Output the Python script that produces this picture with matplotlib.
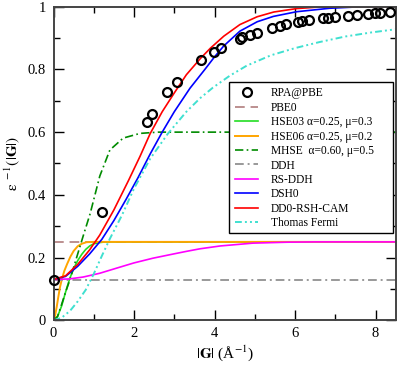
import matplotlib
matplotlib.use("Agg")
import matplotlib.pyplot as plt
from matplotlib.patches import Rectangle
from matplotlib.ticker import MultipleLocator

# RPA@PBE reference points
rpa_g = [0.0, 1.20, 2.33, 2.44, 2.81, 3.08, 3.66, 3.99, 4.16, 4.63, 4.69, 4.88, 5.05,
         5.42, 5.63, 5.78, 6.08, 6.18, 6.35, 6.70, 6.83, 6.99, 7.32, 7.53, 7.82, 7.99,
         8.11, 8.36]
rpa_eps = [0.13, 0.345, 0.631, 0.658, 0.727, 0.760, 0.830, 0.857, 0.869, 0.897, 0.902,
           0.910, 0.917, 0.933, 0.939, 0.944, 0.952, 0.954, 0.958, 0.963, 0.965, 0.966,
           0.971, 0.973, 0.977, 0.979, 0.980, 0.982]

pbe0_g = [0.0, 8.5]
pbe0_eps = [0.25, 0.25]

hse03_g = [0.0, 0.1, 0.2, 0.3, 0.4, 0.5, 0.6, 0.7, 0.8, 0.9, 1.0, 1.15, 1.3, 8.5]
hse03_eps = [0.0, 0.012, 0.045, 0.09, 0.132, 0.165, 0.19, 0.21, 0.226, 0.237, 0.244,
             0.248, 0.25, 0.25]

hse06_g = [0.0, 0.04, 0.08, 0.12, 0.16, 0.21, 0.27, 0.34, 0.42, 0.5, 0.6, 0.7, 0.82, 1.0, 8.5]
hse06_eps = [0.0, 0.015, 0.043, 0.075, 0.105, 0.132, 0.158, 0.18, 0.203, 0.221, 0.236,
             0.244, 0.249, 0.25, 0.25]

mhse_g = [0.0, 0.1, 0.2, 0.3, 0.41, 0.55, 0.74, 0.91, 1.15, 1.4, 1.73, 2.15, 2.6, 8.5]
mhse_eps = [0.0, 0.012, 0.05, 0.09, 0.13, 0.19, 0.27, 0.34, 0.46, 0.543, 0.581, 0.596,
            0.6, 0.6]

ddh_g = [0.0, 8.5]
ddh_eps = [0.13, 0.13]

rsddh_g = [0.0, 0.4, 0.74, 1.15, 1.56, 2.0, 2.47, 3.0, 3.31, 3.64, 4.14, 4.95, 5.8, 6.5, 8.5]
rsddh_eps = [0.13, 0.132, 0.138, 0.15, 0.166, 0.183, 0.198, 0.212, 0.22, 0.228, 0.237,
             0.246, 0.249, 0.25, 0.25]

dsh0_g = [0.0, 0.3, 0.6, 0.9, 1.2, 1.5, 1.8, 2.1, 2.4, 2.7, 3.0, 3.39, 3.76, 4.0, 4.23,
          4.63, 5.06, 5.46, 6.04, 6.86, 7.5, 8.5]
dsh0_eps = [0.13, 0.14, 0.172, 0.212, 0.258, 0.318, 0.385, 0.455, 0.53, 0.60, 0.665,
            0.74, 0.80, 0.84, 0.875, 0.922, 0.952, 0.969, 0.984, 0.995, 0.999, 1.0]

dd0_g = [0.0, 0.3, 0.6, 0.9, 1.15, 1.5, 1.86, 2.15, 2.4, 2.7, 3.0, 3.3, 3.65, 3.9, 4.23,
         4.63, 5.06, 5.47, 6.04, 6.6, 8.5]
dd0_eps = [0.13, 0.142, 0.178, 0.225, 0.272, 0.352, 0.445, 0.523, 0.595, 0.665, 0.725,
           0.783, 0.835, 0.868, 0.906, 0.943, 0.968, 0.983, 0.994, 0.999, 1.0]

tf_g = [0.0, 0.2, 0.41, 0.6, 0.8, 1.0, 1.2, 1.4, 1.7, 2.0, 2.4, 2.84, 3.3, 3.64, 3.96,
        4.38, 4.8, 5.4, 6.0, 6.6, 7.25, 7.9, 8.5]
tf_eps = [0.0, 0.008, 0.03, 0.06, 0.097, 0.148, 0.205, 0.26, 0.335, 0.42, 0.515, 0.595,
          0.665, 0.708, 0.742, 0.78, 0.812, 0.845, 0.868, 0.887, 0.905, 0.918, 0.928]

plt.rcParams.update({
    "font.family": ["Liberation Serif", "DejaVu Serif"],
    "mathtext.fontset": "stix",
})

fig = plt.figure(figsize=(3.99, 3.66), dpi=100)
ax = fig.add_axes([0.1341, 0.1249, 0.8576, 0.8568])

lw = 1.2
ax.plot(rpa_g, rpa_eps, "o", mfc="none", mec="black", mew=1.6, ms=6.4,
        clip_on=False, label="RPA@PBE", zorder=3)
ax.plot(pbe0_g, pbe0_eps, color="#BC8F8F", lw=1.4, ls=(0, (5, 3)), label="PBE0")
ax.plot(hse03_g, hse03_eps, color="#22DD22", lw=lw, label="HSE03 α=0.25, μ=0.3")
ax.plot(hse06_g, hse06_eps, color="#FFA500", lw=1.4, label="HSE06 α=0.25, μ=0.2")
ax.plot(mhse_g, mhse_eps, color="#008B00", lw=lw, ls=(0, (5, 2, 1, 2)),
        label="MHSE  α=0.60, μ=0.5")
ax.plot(ddh_g, ddh_eps, color="#999999", lw=1.4, ls=(0, (4.5, 2, 1, 2)), label="DDH")
ax.plot(rsddh_g, rsddh_eps, color="#FF00FF", lw=lw, label="RS-DDH")
ax.plot(dsh0_g, dsh0_eps, color="#0000FF", lw=lw, label="DSH0")
ax.plot(dd0_g, dd0_eps, color="#FF0000", lw=lw, label="DD0-RSH-CAM")
ax.plot(tf_g, tf_eps, color="#40E0D0", lw=1.4, ls=(0, (3.5, 1.6, 1, 1.6, 1, 1.6)),
        label="Thomas Fermi")

ax.set_xlim(0, 8.5)
ax.set_ylim(0, 1)
ax.xaxis.set_major_locator(MultipleLocator(2))
ax.xaxis.set_minor_locator(MultipleLocator(1))
ax.yaxis.set_major_locator(MultipleLocator(0.2))
ax.yaxis.set_minor_locator(MultipleLocator(0.1))
ax.xaxis.set_major_formatter(plt.FuncFormatter(lambda v, p: f"{v:g}"))
ax.yaxis.set_major_formatter(plt.FuncFormatter(lambda v, p: f"{v:g}"))
ax.tick_params(which="both", direction="in", top=True, right=True, width=1.0,
               labelsize=10.5, color="black")
ax.tick_params(axis="x", which="major", length=7.2, pad=4.5)
ax.tick_params(axis="y", which="major", length=7.2, pad=5.5)
ax.tick_params(which="minor", length=4.0)
for sp in ax.spines.values():
    sp.set_color("#444444")
    sp.set_linewidth(1.4)

ax.set_xlabel(r"$|\mathbf{G}|$ (Å$^{-1}$)", fontsize=11, labelpad=3)
ax.set_ylabel(r"$\mathrm{\varepsilon}^{\ -1}(|\mathbf{G}|)$", fontsize=11, labelpad=4)

# legend without its own frame; a white box behind it stands in for the frame
leg = ax.legend(loc="upper left", bbox_to_anchor=(0.589, 0.762),
                bbox_transform=fig.transFigure, borderaxespad=0, borderpad=0,
                fontsize=8.3, frameon=False, handlelength=2.0, handletextpad=1.08,
                labelspacing=0.215)
leg.set_zorder(6)
ax.add_patch(Rectangle((0.5739, 0.3642), 0.4118, 0.4126, transform=fig.transFigure,
                       facecolor="white", edgecolor="black", linewidth=1.0,
                       zorder=5, clip_on=False))

fig.savefig("out.png", dpi=100)
